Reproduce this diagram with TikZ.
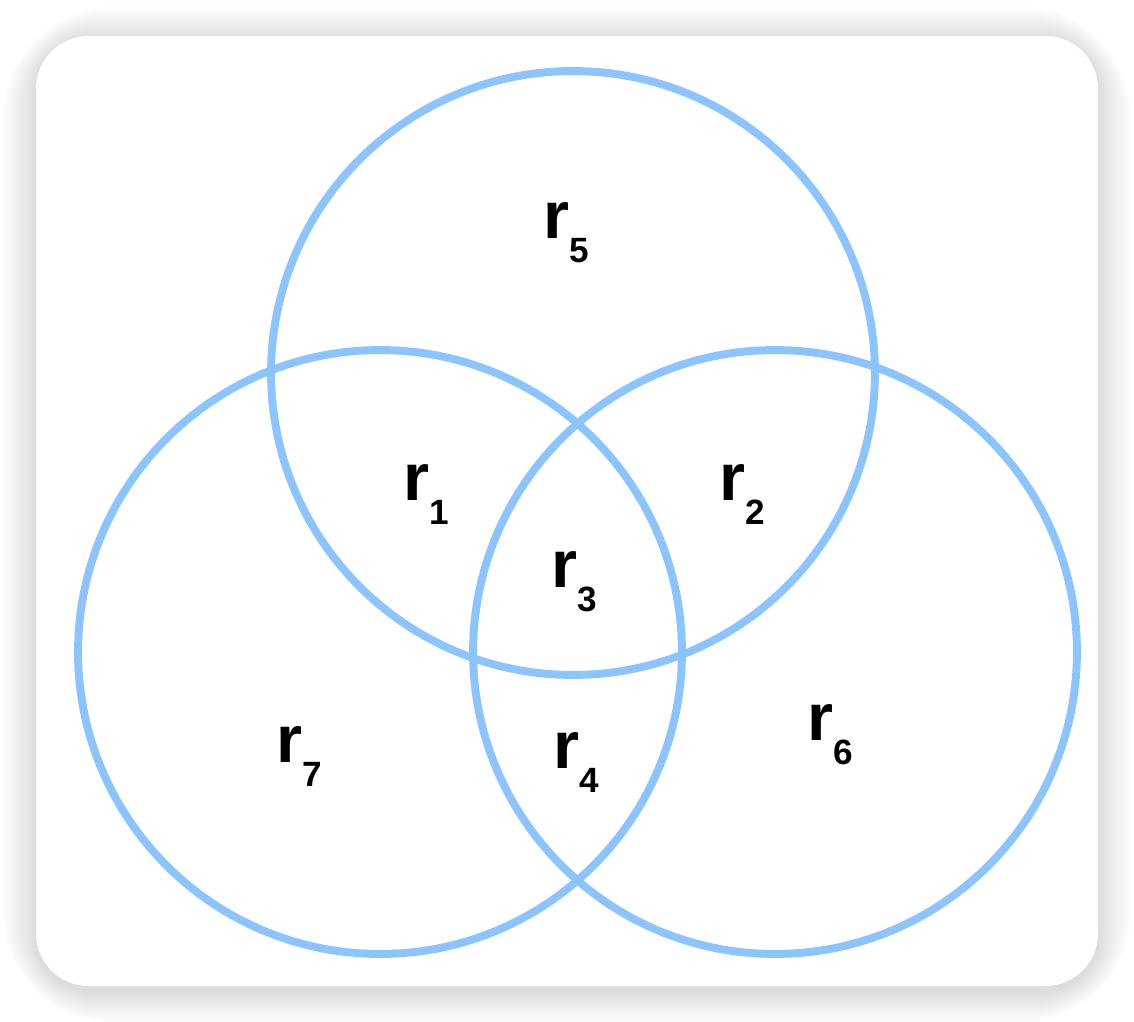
\documentclass[tikz,border=0pt]{standalone}
\usepackage{fontspec}
\setmainfont{Liberation Sans}
\usepackage{xcolor}
\usetikzlibrary{positioning}

\definecolor{vennblue}{RGB}{140,196,255}
\newcommand{\rlab}[1]{r\raisebox{-0.48cm}{\fontsize{20}{24}\selectfont #1}}

\begin{document}
\begin{tikzpicture}[
    x=0.02cm, y=-0.02cm,
    ring/.style={circle, draw=vennblue, line width=4.5pt, minimum size=12.08cm, inner sep=0pt},
    region/.style={anchor=base west, inner sep=0pt, font=\fontsize{38}{40}\selectfont\bfseries}
]
    \useasboundingbox (0,0) rectangle (1134,1022);

    % card with soft shadow
    \foreach \s in {1,...,34}
        \fill[black, opacity=0.0042, rounded corners=30+\s] (36-\s,36-\s+4) rectangle (1098+\s,986+\s+4);
    \fill[white, rounded corners=30] (36,36) rectangle (1098,986);

    % circles
    \node[ring] (top) at (573,373) {};
    \node[ring] (left) at (380,652) {};
    \node[ring] (right) at (775,652) {};

    % regions
    \node[region] (r5) at (543,238) {\rlab{5}};
    \node[region] (r1) at (403,500) {\rlab{1}};
    \node[region] (r2) at (719,500) {\rlab{2}};
    \node[region] (r3) at (551,587) {\rlab{3}};
    \node[region] (r4) at (553,768) {\rlab{4}};
    \node[region] (r6) at (807,740) {\rlab{6}};
    \node[region] (r7) at (276,762) {\rlab{7}};

\end{tikzpicture}
\end{document}
